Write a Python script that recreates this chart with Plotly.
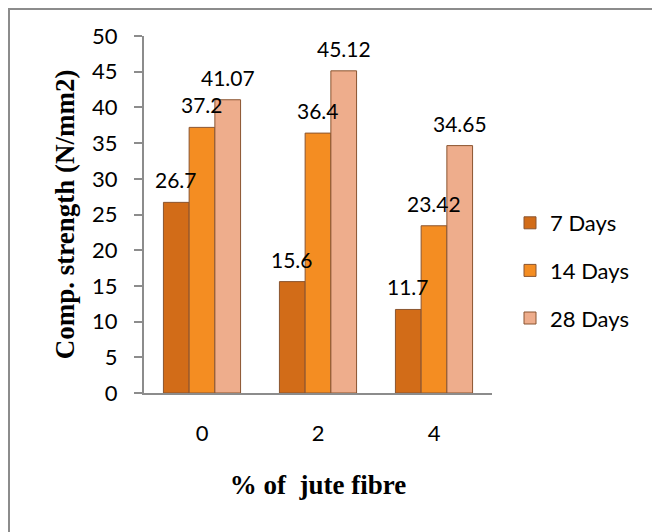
import plotly.graph_objects as go

categories = ["0", "2", "4"]
series_names = ["7 Days", "14 Days", "28 Days"]
days7 = [26.7, 15.6, 11.7]
days14 = [37.2, 36.4, 23.42]
days28 = [41.07, 45.12, 34.65]
label_text7 = ["26.7", "15.6", "11.7"]
label_text14 = ["37.2", "36.4", "23.42"]
label_text28 = ["41.07", "45.12", "34.65"]
y_ticks = [0, 5, 10, 15, 20, 25, 30, 35, 40, 45, 50]

colors = ["#D26C18", "#F48D22", "#EEAD8C"]
all_vals = [days7, days14, days28]
all_labels = [label_text7, label_text14, label_text28]

SANS = "Lato, Open Sans, sans-serif"
SERIF = "Liberation Serif, Times New Roman, serif"

# page body has an 8px default margin; the figure starts at (8, 8) in the window
OFF = 8
W, H = 660 - OFF, 532 - OFF
L, R, T, B = 144 - OFF, 492 - OFF, 36 - OFF, 393 - OFF
pw, ph = R - L, B - T

def px(xp):
    return (xp - OFF - L) / pw

def py(yp):
    return (B - (yp - OFF)) / ph

fig = go.Figure()
for name, vals, col in zip(series_names, all_vals, colors):
    fig.add_trace(go.Bar(
        name=name, x=categories, y=vals,
        marker=dict(color=col, line=dict(color="#8a5530", width=1)),
        legendgroup=name,
    ))

bargap = 0.335
bw = (1 - bargap) / 3
for i, (vals, labs) in enumerate(zip(all_vals, all_labels)):
    for j, (v, t) in enumerate(zip(vals, labs)):
        fig.add_annotation(
            x=j + (i - 1) * bw, y=v, xref="x", yref="y",
            text=t, showarrow=False, yanchor="bottom", yshift=8,
            font=dict(family=SANS, size=21, color="#000"),
        )

# outer chart frame (its right and bottom edges lie outside the window)
fig.add_shape(type="rect", xref="paper", yref="paper",
              x0=px(9), x1=px(720), y0=py(9), y1=py(600),
              line=dict(color="#8c8c8c", width=2), fillcolor="rgba(0,0,0,0)", layer="below")

fig.update_layout(
    width=W, height=H,
    margin=dict(l=L, r=W - R, t=T, b=H - B),
    paper_bgcolor="white", plot_bgcolor="white",
    barmode="group", bargap=bargap, bargroupgap=0.0,
    showlegend=True,
    legend=dict(x=px(510), y=py(202), xanchor="left", yanchor="top",
                font=dict(family=SANS, size=22, color="#000"),
                traceorder="grouped", tracegroupgap=16, itemwidth=30,
                bgcolor="rgba(0,0,0,0)"),
    xaxis=dict(
        type="category", showline=True, linecolor="#8c8c8c", linewidth=2,
        ticks="", tickfont=dict(family=SANS, size=22, color="#000"),
        ticklabelstandoff=20,
        title=dict(text="<b>% of&nbsp; jute fibre</b>", standoff=30,
                   font=dict(family=SERIF, size=27, color="#000")),
    ),
    yaxis=dict(
        range=[0, 50], tickvals=y_ticks, showgrid=False, zeroline=False,
        showline=True, linecolor="#8c8c8c", linewidth=2,
        ticks="outside", ticklen=8, tickcolor="#8c8c8c", tickwidth=2,
        ticklabelstandoff=12,
        tickfont=dict(family=SANS, size=22, color="#000"),
        title=dict(text="<b>Comp. strength (N/mm2)</b>", standoff=10,
                   font=dict(family=SERIF, size=27, color="#000")),
    ),
)

fig.write_html("out.html")
